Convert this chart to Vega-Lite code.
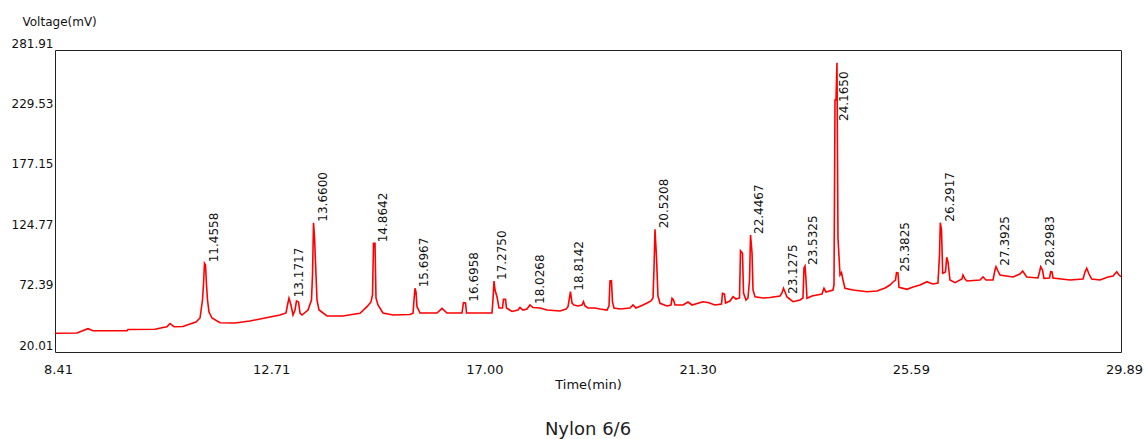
{
  "$schema": "https://vega.github.io/schema/vega-lite/v6.json",
  "width": 1066,
  "height": 302,
  "autosize": {"type": "none"},
  "padding": {"left": 55, "top": 50, "right": 23, "bottom": 87},
  "background": "white",
  "config": {
    "view": {"stroke": "#222", "strokeWidth": 1},
    "font": "DejaVu Sans"
  },
  "title": {
    "text": "Nylon 6/6",
    "orient": "bottom",
    "anchor": "middle",
    "fontSize": 18,
    "fontWeight": "normal",
    "font": "DejaVu Sans",
    "color": "#222",
    "offset": 30
  },
  "datasets": {
    "trace": [
      {"t": 8.410, "v": 36.23}, {"t": 8.853, "v": 36.49}, {"t": 8.954, "v": 38.22}, {"t": 9.075, "v": 40.22},
      {"t": 9.176, "v": 38.48}, {"t": 9.861, "v": 38.48}, {"t": 9.881, "v": 39.52}, {"t": 10.425, "v": 39.70},
      {"t": 10.586, "v": 41.26}, {"t": 10.667, "v": 41.95}, {"t": 10.727, "v": 44.73}, {"t": 10.808, "v": 41.95},
      {"t": 10.989, "v": 42.12}, {"t": 11.130, "v": 44.29}, {"t": 11.251, "v": 46.03}, {"t": 11.332, "v": 49.50},
      {"t": 11.382, "v": 65.11}, {"t": 11.402, "v": 78.11}, {"t": 11.422, "v": 96.93}, {"t": 11.443, "v": 95.46},
      {"t": 11.463, "v": 78.11}, {"t": 11.483, "v": 65.11}, {"t": 11.513, "v": 54.70}, {"t": 11.574, "v": 49.50},
      {"t": 11.735, "v": 45.42}, {"t": 12.037, "v": 45.16}, {"t": 12.339, "v": 46.89}, {"t": 12.642, "v": 49.50},
      {"t": 12.944, "v": 52.10}, {"t": 13.065, "v": 53.83}, {"t": 13.095, "v": 60.77}, {"t": 13.125, "v": 66.58},
      {"t": 13.165, "v": 60.77}, {"t": 13.206, "v": 52.10}, {"t": 13.246, "v": 56.43}, {"t": 13.276, "v": 64.24},
      {"t": 13.317, "v": 63.37}, {"t": 13.347, "v": 53.83}, {"t": 13.387, "v": 52.10}, {"t": 13.508, "v": 56.43},
      {"t": 13.578, "v": 65.11}, {"t": 13.599, "v": 86.79}, {"t": 13.619, "v": 132.14}, {"t": 13.639, "v": 120.00},
      {"t": 13.659, "v": 98.06}, {"t": 13.689, "v": 65.11}, {"t": 13.730, "v": 56.43}, {"t": 13.891, "v": 51.23},
      {"t": 14.213, "v": 51.23}, {"t": 14.455, "v": 52.96}, {"t": 14.556, "v": 53.57}, {"t": 14.697, "v": 59.29},
      {"t": 14.777, "v": 63.37}, {"t": 14.808, "v": 69.44}, {"t": 14.828, "v": 114.28}, {"t": 14.858, "v": 114.28},
      {"t": 14.878, "v": 66.84}, {"t": 14.918, "v": 60.77}, {"t": 15.019, "v": 53.83}, {"t": 15.221, "v": 52.10},
      {"t": 15.563, "v": 52.53}, {"t": 15.624, "v": 53.57}, {"t": 15.644, "v": 65.11}, {"t": 15.664, "v": 75.25},
      {"t": 15.684, "v": 72.04}, {"t": 15.704, "v": 59.29}, {"t": 15.765, "v": 53.83}, {"t": 16.107, "v": 53.83},
      {"t": 16.208, "v": 57.91}, {"t": 16.309, "v": 53.83}, {"t": 16.611, "v": 53.83}, {"t": 16.641, "v": 62.76},
      {"t": 16.682, "v": 62.50}, {"t": 16.702, "v": 53.83}, {"t": 17.216, "v": 53.83}, {"t": 17.236, "v": 65.97},
      {"t": 17.256, "v": 81.58}, {"t": 17.276, "v": 73.78}, {"t": 17.316, "v": 67.97}, {"t": 17.357, "v": 58.17},
      {"t": 17.427, "v": 58.17}, {"t": 17.447, "v": 65.71}, {"t": 17.488, "v": 65.71}, {"t": 17.508, "v": 58.17},
      {"t": 17.619, "v": 55.13}, {"t": 17.739, "v": 56.43}, {"t": 17.780, "v": 58.60}, {"t": 17.840, "v": 56.43},
      {"t": 17.921, "v": 57.30}, {"t": 17.981, "v": 60.77}, {"t": 18.042, "v": 58.60}, {"t": 18.183, "v": 58.17},
      {"t": 18.324, "v": 56.43}, {"t": 18.586, "v": 55.57}, {"t": 18.707, "v": 57.30}, {"t": 18.747, "v": 59.29},
      {"t": 18.797, "v": 72.30}, {"t": 18.828, "v": 62.50}, {"t": 18.868, "v": 60.77}, {"t": 18.948, "v": 59.90},
      {"t": 19.029, "v": 60.77}, {"t": 19.059, "v": 63.63}, {"t": 19.089, "v": 59.90}, {"t": 19.150, "v": 58.17},
      {"t": 19.291, "v": 58.17}, {"t": 19.392, "v": 57.30}, {"t": 19.533, "v": 56.43}, {"t": 19.573, "v": 59.90},
      {"t": 19.593, "v": 81.58}, {"t": 19.623, "v": 81.84}, {"t": 19.643, "v": 63.37}, {"t": 19.674, "v": 58.17},
      {"t": 19.795, "v": 57.30}, {"t": 19.996, "v": 58.17}, {"t": 20.057, "v": 60.77}, {"t": 20.117, "v": 58.17},
      {"t": 20.258, "v": 60.77}, {"t": 20.339, "v": 62.50}, {"t": 20.419, "v": 64.24}, {"t": 20.460, "v": 66.84},
      {"t": 20.480, "v": 92.86}, {"t": 20.500, "v": 126.42}, {"t": 20.530, "v": 102.14}, {"t": 20.560, "v": 68.57},
      {"t": 20.601, "v": 62.24}, {"t": 20.742, "v": 59.90}, {"t": 20.822, "v": 60.77}, {"t": 20.843, "v": 66.58},
      {"t": 20.873, "v": 65.11}, {"t": 20.903, "v": 60.77}, {"t": 21.064, "v": 60.77}, {"t": 21.165, "v": 63.37},
      {"t": 21.246, "v": 60.77}, {"t": 21.467, "v": 63.63}, {"t": 21.568, "v": 62.94}, {"t": 21.709, "v": 60.77},
      {"t": 21.840, "v": 61.64}, {"t": 21.860, "v": 70.92}, {"t": 21.900, "v": 70.31}, {"t": 21.921, "v": 62.50},
      {"t": 22.011, "v": 64.24}, {"t": 22.072, "v": 67.97}, {"t": 22.132, "v": 65.97}, {"t": 22.203, "v": 66.84},
      {"t": 22.223, "v": 107.86}, {"t": 22.263, "v": 105.60}, {"t": 22.284, "v": 71.18}, {"t": 22.334, "v": 65.11},
      {"t": 22.374, "v": 66.84}, {"t": 22.405, "v": 82.45}, {"t": 22.425, "v": 121.48}, {"t": 22.455, "v": 106.12},
      {"t": 22.475, "v": 73.78}, {"t": 22.515, "v": 67.97}, {"t": 22.676, "v": 66.84}, {"t": 22.817, "v": 67.27},
      {"t": 23.019, "v": 68.57}, {"t": 23.059, "v": 71.18}, {"t": 23.089, "v": 75.25}, {"t": 23.120, "v": 72.04},
      {"t": 23.160, "v": 67.71}, {"t": 23.281, "v": 63.63}, {"t": 23.422, "v": 65.11}, {"t": 23.482, "v": 66.84},
      {"t": 23.502, "v": 92.86}, {"t": 23.523, "v": 94.59}, {"t": 23.543, "v": 82.45}, {"t": 23.563, "v": 66.58},
      {"t": 23.664, "v": 68.57}, {"t": 23.764, "v": 69.44}, {"t": 23.865, "v": 70.31}, {"t": 23.905, "v": 75.25},
      {"t": 23.946, "v": 72.04}, {"t": 24.087, "v": 73.78}, {"t": 24.107, "v": 78.11}, {"t": 24.127, "v": 238.55},
      {"t": 24.147, "v": 238.55}, {"t": 24.167, "v": 270.90}, {"t": 24.187, "v": 118.87}, {"t": 24.228, "v": 86.79},
      {"t": 24.258, "v": 88.78}, {"t": 24.288, "v": 82.45}, {"t": 24.328, "v": 75.25}, {"t": 24.490, "v": 73.78},
      {"t": 24.772, "v": 72.30}, {"t": 24.973, "v": 72.91}, {"t": 25.135, "v": 75.51}, {"t": 25.235, "v": 78.11},
      {"t": 25.296, "v": 80.72}, {"t": 25.346, "v": 82.45}, {"t": 25.366, "v": 88.78}, {"t": 25.396, "v": 88.52},
      {"t": 25.417, "v": 76.12}, {"t": 25.578, "v": 74.38}, {"t": 25.699, "v": 76.38}, {"t": 25.840, "v": 78.11},
      {"t": 25.981, "v": 80.98}, {"t": 26.041, "v": 79.85}, {"t": 26.102, "v": 78.98}, {"t": 26.202, "v": 79.85},
      {"t": 26.233, "v": 104.13}, {"t": 26.249, "v": 132.14}, {"t": 26.273, "v": 125.81}, {"t": 26.297, "v": 88.26},
      {"t": 26.353, "v": 89.39}, {"t": 26.378, "v": 102.14}, {"t": 26.404, "v": 98.06}, {"t": 26.444, "v": 82.45},
      {"t": 26.545, "v": 80.11}, {"t": 26.686, "v": 83.32}, {"t": 26.706, "v": 86.79}, {"t": 26.747, "v": 83.32},
      {"t": 26.787, "v": 81.58}, {"t": 27.049, "v": 82.45}, {"t": 27.109, "v": 85.05}, {"t": 27.170, "v": 82.45},
      {"t": 27.311, "v": 82.45}, {"t": 27.351, "v": 91.12}, {"t": 27.371, "v": 93.98}, {"t": 27.411, "v": 90.25},
      {"t": 27.452, "v": 86.79}, {"t": 27.714, "v": 85.05}, {"t": 27.855, "v": 87.65}, {"t": 27.909, "v": 90.25},
      {"t": 27.990, "v": 85.05}, {"t": 28.217, "v": 84.18}, {"t": 28.248, "v": 89.39}, {"t": 28.272, "v": 93.98},
      {"t": 28.308, "v": 91.12}, {"t": 28.338, "v": 83.92}, {"t": 28.449, "v": 84.18}, {"t": 28.473, "v": 89.65},
      {"t": 28.500, "v": 89.39}, {"t": 28.520, "v": 84.18}, {"t": 28.862, "v": 82.45}, {"t": 29.124, "v": 83.32},
      {"t": 29.165, "v": 89.39}, {"t": 29.199, "v": 92.60}, {"t": 29.245, "v": 87.65}, {"t": 29.299, "v": 83.32},
      {"t": 29.467, "v": 82.45}, {"t": 29.628, "v": 85.05}, {"t": 29.729, "v": 85.92}, {"t": 29.803, "v": 89.65},
      {"t": 29.850, "v": 86.79}, {"t": 29.890, "v": 85.31}
    ],
    "peaks": [
      {"t": 11.4558, "v": 96.93, "label": "11.4558"},
      {"t": 13.1717, "v": 66.58, "label": "13.1717"},
      {"t": 13.6600, "v": 132.14, "label": "13.6600"},
      {"t": 14.8642, "v": 114.28, "label": "14.8642"},
      {"t": 15.6967, "v": 75.25, "label": "15.6967"},
      {"t": 16.6958, "v": 62.76, "label": "16.6958"},
      {"t": 17.2750, "v": 81.58, "label": "17.2750"},
      {"t": 18.0268, "v": 60.77, "label": "18.0268"},
      {"t": 18.8142, "v": 72.30, "label": "18.8142"},
      {"t": 20.5208, "v": 126.42, "label": "20.5208"},
      {"t": 22.4467, "v": 121.48, "label": "22.4467"},
      {"t": 23.1275, "v": 69.44, "label": "23.1275"},
      {"t": 23.5325, "v": 94.59, "label": "23.5325"},
      {"t": 24.1650, "v": 219.47, "label": "24.1650"},
      {"t": 25.3825, "v": 88.78, "label": "25.3825"},
      {"t": 26.2917, "v": 132.14, "label": "26.2917"},
      {"t": 27.3925, "v": 93.98, "label": "27.3925"},
      {"t": 28.2983, "v": 93.98, "label": "28.2983"}
    ]
  },
  "layer": [
    {
      "data": {"name": "trace"},
      "mark": {"type": "line", "color": "#ff0000", "strokeWidth": 1.6, "clip": true},
      "encoding": {
        "x": {
          "field": "t",
          "type": "quantitative",
          "scale": {"domain": [8.41, 29.89], "nice": false, "zero": false},
          "axis": {
            "title": "Time(min)",
            "values": [8.41, 12.706, 17.002, 21.298, 25.594, 29.89],
            "format": ".2f",
            "grid": false,
            "ticks": false,
            "domain": false,
            "labelFont": "DejaVu Sans",
            "labelFontSize": 13,
            "labelColor": "#111",
            "labelPadding": 11,
            "labelOffset": 3,
            "labelFlush": false,
            "labelOverlap": false,
            "labelBound": false,
            "titleFont": "DejaVu Sans",
            "titleFontSize": 13,
            "titleFontWeight": "normal",
            "titleColor": "#111",
            "titlePadding": 2
          }
        },
        "y": {
          "field": "v",
          "type": "quantitative",
          "scale": {"domain": [20.01, 281.91], "nice": false, "zero": false},
          "axis": {
            "title": "Voltage(mV)",
            "titleAngle": 0,
            "titleAlign": "left",
            "titleBaseline": "middle",
            "titleX": -33,
            "titleY": -29,
            "titleFont": "DejaVu Sans",
            "titleFontSize": 12,
            "titleFontWeight": "normal",
            "titleColor": "#111",
            "values": [20.01, 72.39, 124.77, 177.15, 229.53, 281.91],
            "format": ".2f",
            "grid": false,
            "ticks": false,
            "domain": false,
            "labelFont": "DejaVu Sans",
            "labelFontSize": 12,
            "labelColor": "#111",
            "labelPadding": 2,
            "labelBaseline": "bottom",
            "labelFlush": false,
            "labelOverlap": false,
            "labelBound": false
          }
        }
      }
    },
    {
      "data": {"name": "peaks"},
      "mark": {"type": "text", "angle": 270, "align": "left", "baseline": "middle", "dx": 1, "dy": 7.5, "fontSize": 12, "font": "DejaVu Sans", "color": "#111"},
      "encoding": {
        "x": {"field": "t", "type": "quantitative"},
        "y": {"field": "v", "type": "quantitative"},
        "text": {"field": "label", "type": "nominal"}
      }
    }
  ]
}
